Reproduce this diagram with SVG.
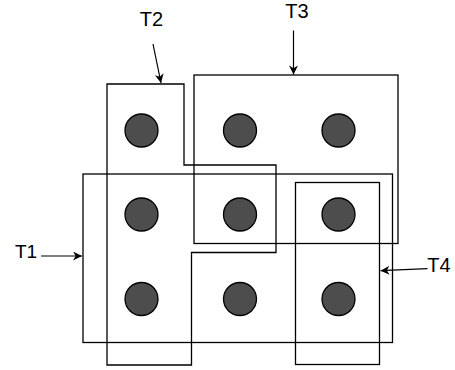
<svg xmlns="http://www.w3.org/2000/svg" width="455" height="370" viewBox="0 0 455 370">
<style>
.region{fill:none;stroke:#000;stroke-width:1.3}
.dot{fill:#4d4d4d;stroke:#000;stroke-width:1.3}
.lbl{font-family:"Liberation Sans",Arial,sans-serif;font-size:20px;fill:#000;text-anchor:middle}
.conn{fill:none;stroke:#000;stroke-width:1.2}
</style>
<defs>
<marker id="arr" viewBox="0 0 10 10" refX="10" refY="5" markerWidth="10" markerHeight="9" markerUnits="userSpaceOnUse" orient="auto">
<path d="M0,0 L10,5 L0,10 L3,5 Z" fill="#000"/>
</marker>
</defs>
<rect width="455" height="370" fill="#fff"/>
<g id="T2">
<polygon class="region" points="107,84 184,84 184,165 276,165 276,252.5 191.5,252.5 191.5,365 107,365"/>
</g>
<g id="T3">
<rect class="region" x="194" y="75" width="204" height="168.5"/>
</g>
<g id="T1">
<rect class="region" x="83" y="174" width="309.5" height="168.5"/>
</g>
<g id="T4">
<rect class="region" x="295.5" y="182.5" width="84" height="182"/>
</g>
<g id="dots">
<g id="c11"><circle class="dot" cx="141.5" cy="130.5" r="16.5"/></g>
<g id="c12"><circle class="dot" cx="240" cy="130.5" r="16.5"/></g>
<g id="c13"><circle class="dot" cx="338.5" cy="130.5" r="16.5"/></g>
<g id="c21"><circle class="dot" cx="141.5" cy="214.5" r="16.5"/></g>
<g id="c22"><circle class="dot" cx="240" cy="214.5" r="16.5"/></g>
<g id="c23"><circle class="dot" cx="338.5" cy="214.5" r="16.5"/></g>
<g id="c31"><circle class="dot" cx="141.5" cy="299" r="16.5"/></g>
<g id="c32"><circle class="dot" cx="240" cy="299" r="16.5"/></g>
<g id="c33"><circle class="dot" cx="338.5" cy="299" r="16.5"/></g>
</g>
<g id="labels">
<text class="lbl" x="151.5" y="26">T2</text>
<text class="lbl" x="297" y="17.5">T3</text>
<text class="lbl" x="26" y="257.7" style="font-size:19px">T1</text>
<text class="lbl" x="439" y="271.5">T4</text>
</g>
<g id="connectors">
<line class="conn" x1="153" y1="44" x2="161" y2="83" marker-end="url(#arr)"/>
<line class="conn" x1="293.5" y1="30.5" x2="293.5" y2="74.5" marker-end="url(#arr)"/>
<line class="conn" x1="41" y1="256" x2="82" y2="256" marker-end="url(#arr)"/>
<line class="conn" x1="427.5" y1="268.7" x2="380.5" y2="270.7" marker-end="url(#arr)"/>
</g>
</svg>
